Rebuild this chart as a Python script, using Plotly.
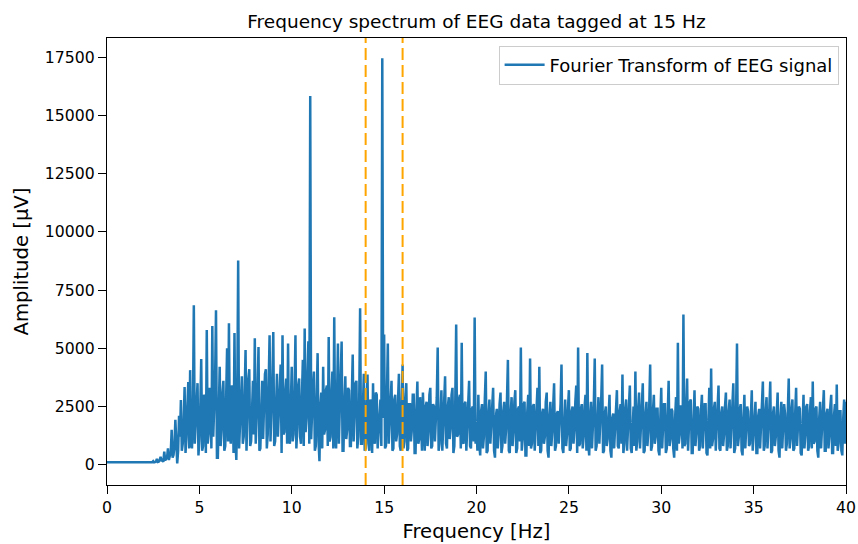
import numpy as np
import plotly.graph_objects as go

# Frequency bins (Hz) at 0.05 Hz resolution, 0 .. 40 Hz
freq_step = 0.05

# Amplitudes (µV), one list per 5 Hz band
amp_00_05 = [100, 100, 100, 100, 100, 100, 100, 100, 100, 100,
             100, 100, 100, 100, 100, 100, 100, 100, 100, 100,
             100, 100, 100, 100, 100, 100, 100, 100, 100, 100,
             100, 100, 100, 100, 100, 100, 100, 100, 100, 100,
             100, 100, 105, 100, 110, 100, 100, 100, 120, 110,
             150, 100, 110, 130, 250, 120, 130, 200, 340, 150,
             200, 120, 560, 180, 250, 300, 700, 200, 380, 500,
             1500, 300, 420, 800, 1930, 900, 50, 600, 2100, 1200,
             2780, 600, 900, 1800, 3340, 500, 1200, 2500, 3550, 700,
             4060, 1000, 700, 2200, 6850, 900, 1600, 2800, 3500, 400]
amp_05_10 = [1100, 2400, 4540, 600, 800, 3000, 2900, 500, 5780, 900,
             1300, 3300, 3200, 700, 5950, 1200, 2200, 3600, 6630, 300,
             300, 2600, 4200, 800, 1500, 3100, 3600, 600, 800, 2900,
             5000, 1000, 6070, 1300, 900, 3400, 3300, 500, 5650, 1100,
             200, 2800, 8770, 700, 1800, 3500, 3800, 900, 1200, 3000,
             4920, 600, 2500, 3700, 4100, 800, 1000, 2900, 3600, 1300,
             5430, 900, 1800, 3200, 5050, 600, 700, 2700, 3600, 1100,
             2400, 3900, 4100, 700, 1300, 3300, 5560, 1000, 2000, 3500,
             5700, 800, 1000, 2800, 3900, 1200, 2300, 3600, 4300, 500,
             5560, 1300, 1400, 3100, 3700, 900, 5200, 1100, 900, 2600]
amp_10_15 = [4200, 1000, 1300, 3000, 5560, 700, 1600, 3400, 3700, 1200,
             900, 2900, 4500, 800, 5850, 1400, 2000, 3800, 5300, 900,
             15830, 1100, 2600, 3300, 4000, 600, 800, 2800, 4790, 1000,
             150, 2500, 3100, 700, 4200, 1300, 1500, 3200, 3400, 800,
             5480, 1000, 1200, 3000, 4000, 700, 6330, 1200, 700, 2800,
             5200, 900, 2200, 3400, 5290, 600, 600, 2700, 3800, 1100,
             1500, 3300, 3200, 800, 800, 2900, 4730, 1000, 2200, 3500,
             3600, 700, 1200, 2600, 6720, 900, 900, 3000, 3900, 600,
             700, 2500, 3870, 900, 600, 2800, 2600, 500, 3500, 1100,
             900, 3100, 3000, 700, 1500, 2600, 2800, 800, 17450, 2000]
amp_15_20 = [5590, 700, 800, 3000, 5200, 900, 1900, 3300, 3600, 600,
             700, 2800, 3000, 1000, 1300, 2700, 3900, 800, 600, 2500,
             4300, 700, 1000, 2800, 3500, 600, 700, 2600, 2600, 1000,
             1500, 3000, 3000, 500, 500, 2400, 3570, 900, 1100, 2900,
             2000, 600, 3100, 1200, 600, 2500, 2700, 800, 1400, 3000,
             3300, 700, 800, 2600, 2500, 1000, 1800, 2900, 5030, 600,
             900, 2700, 3200, 600, 1500, 2800, 3800, 900, 700, 2500,
             2900, 1100, 1600, 3000, 3300, 500, 800, 2600, 6020, 1200,
             1300, 2800, 3000, 700, 5240, 1000, 900, 2600, 2700, 600,
             1500, 3100, 3600, 800, 700, 2400, 2500, 1000, 6320, 900]
amp_20_25 = [1800, 600, 3000, 900, 400, 2300, 2600, 700, 1200, 2800,
             4000, 500, 600, 2200, 2800, 900, 1600, 2500, 3300, 600,
             300, 2100, 2400, 700, 1300, 2600, 3100, 500, 800, 2300,
             2700, 900, 1500, 2800, 4500, 600, 500, 2200, 2900, 800,
             1400, 2700, 3200, 500, 700, 2400, 2500, 1000, 5030, 600,
             1100, 2600, 2700, 400, 400, 2300, 3000, 800, 4560, 700,
             900, 2500, 2600, 600, 1500, 2900, 3300, 800, 4200, 500,
             600, 2200, 2400, 900, 1200, 2700, 3100, 600, 300, 2100,
             2700, 800, 1400, 2500, 3500, 600, 800, 2200, 2300, 900,
             1600, 2600, 4300, 700, 500, 2000, 2800, 800, 1300, 2400]
amp_25_30 = [3200, 600, 700, 2300, 2500, 900, 1500, 2700, 3400, 500,
             5030, 800, 900, 2400, 2600, 700, 1200, 2500, 3000, 600,
             4800, 900, 400, 2100, 2700, 700, 1400, 2600, 4560, 600,
             800, 2300, 2900, 900, 1600, 2800, 4300, 500, 600, 2200,
             2500, 800, 1100, 2400, 3000, 600, 300, 2000, 2200, 700,
             1500, 2600, 3200, 800, 700, 2300, 2600, 900, 3870, 500,
             900, 2400, 2800, 600, 1300, 2500, 3400, 700, 500, 2100,
             2500, 800, 4000, 600, 1000, 2400, 3100, 700, 1700, 2600,
             3500, 500, 600, 2200, 2700, 800, 1400, 2500, 4300, 600,
             800, 2300, 3000, 900, 1200, 2400, 2400, 600, 400, 2000]
amp_30_35 = [3300, 700, 1500, 2600, 2600, 500, 700, 2200, 3600, 800,
             1100, 2400, 2300, 700, 300, 2000, 2900, 600, 5240, 900,
             1300, 2500, 2500, 700, 6450, 800, 900, 2400, 3700, 600,
             1600, 2700, 2800, 500, 500, 2100, 3200, 800, 1400, 2500,
             2400, 600, 800, 2300, 3000, 700, 1700, 2600, 2600, 500,
             400, 2000, 3300, 700, 4130, 800, 1100, 2400, 2700, 600,
             1500, 2600, 3400, 700, 600, 2200, 2500, 800, 1300, 2500,
             3100, 600, 800, 2300, 2800, 700, 1800, 2600, 3500, 500,
             700, 2300, 5200, 800, 1200, 2400, 2600, 600, 400, 2000,
             3000, 700, 1500, 2500, 2300, 800, 900, 2200, 3200, 600]
amp_35_40 = [1300, 2400, 2700, 500, 500, 2100, 2400, 700, 1600, 2600,
             3570, 600, 800, 2300, 2900, 700, 1400, 2400, 3570, 500,
             600, 2200, 2500, 800, 1200, 2500, 3100, 600, 300, 2000,
             2700, 700, 1500, 2600, 2200, 600, 900, 2300, 3700, 700,
             1100, 2400, 2800, 600, 700, 2200, 3300, 800, 1600, 2500,
             2400, 500, 400, 2100, 3000, 700, 1300, 2500, 2600, 600,
             800, 2300, 2900, 700, 3570, 900, 1000, 2400, 2500, 600,
             300, 2000, 2700, 700, 1500, 2500, 3200, 600, 600, 2200,
             2400, 700, 1200, 2500, 3000, 500, 500, 2100, 2600, 800,
             3440, 600, 900, 2300, 2300, 600, 400, 2000, 2800, 900,
             2700]

amplitude = (amp_00_05 + amp_05_10 + amp_10_15 + amp_15_20 +
             amp_20_25 + amp_25_30 + amp_30_35 + amp_35_40)
frequency = np.round(np.arange(len(amplitude)) * freq_step, 3)

x_ticks = [0, 5, 10, 15, 20, 25, 30, 35, 40]
y_ticks = [0, 2500, 5000, 7500, 10000, 12500, 15000, 17500]
band_edges = [14, 16]

FONT = "DejaVu Sans"

fig = go.Figure()
fig.add_trace(go.Scatter(
    x=frequency, y=amplitude, mode="lines",
    name="Fourier Transform of EEG signal",
    line=dict(color="#1f77b4", width=2.5),
))

for edge in band_edges:
    fig.add_shape(type="line", xref="x", yref="paper",
                  x0=edge, x1=edge, y0=0, y1=1, layer="above",
                  line=dict(color="orange", width=2, dash="12px,5px"))

fig.update_layout(
    width=858, height=544,
    margin=dict(l=107, r=12, t=38, b=59),
    paper_bgcolor="white", plot_bgcolor="white",
    font=dict(family=FONT, color="black"),
    title=dict(text="Frequency spectrum of EEG data tagged at 15 Hz",
               x=0.5553, xanchor="center", y=0.9605, yanchor="middle",
               yref="container", font=dict(size=18.5, family=FONT)),
    showlegend=True,
    legend=dict(x=0.99, y=0.983, xanchor="right", yanchor="top",
                bgcolor="rgba(255,255,255,0.8)", bordercolor="#cccccc",
                borderwidth=1, itemwidth=40,
                font=dict(size=18, family=FONT)),
)

fig.update_xaxes(
    range=[0, 40], tickvals=x_ticks, ticks="outside", ticklen=8,
    tickwidth=1.3, tickcolor="black", showline=True, linecolor="black",
    linewidth=1.3, mirror=True, showgrid=False, zeroline=False,
    automargin=False,
    tickfont=dict(size=15.7, family=FONT),
    title=dict(text="Frequency [Hz]", font=dict(size=19.6, family=FONT),
               standoff=8),
)
fig.update_yaxes(
    range=[-872, 18322], tickvals=y_ticks, tickformat="d", ticks="outside",
    ticklen=8, tickwidth=1.3, tickcolor="black", showline=True,
    linecolor="black", linewidth=1.3, mirror=True, showgrid=False,
    zeroline=False, automargin=False,
    tickfont=dict(size=15.7, family=FONT),
    title=dict(text="Amplitude [µV]", font=dict(size=19.6, family=FONT),
               standoff=10),
)

fig.write_html("out.html")
